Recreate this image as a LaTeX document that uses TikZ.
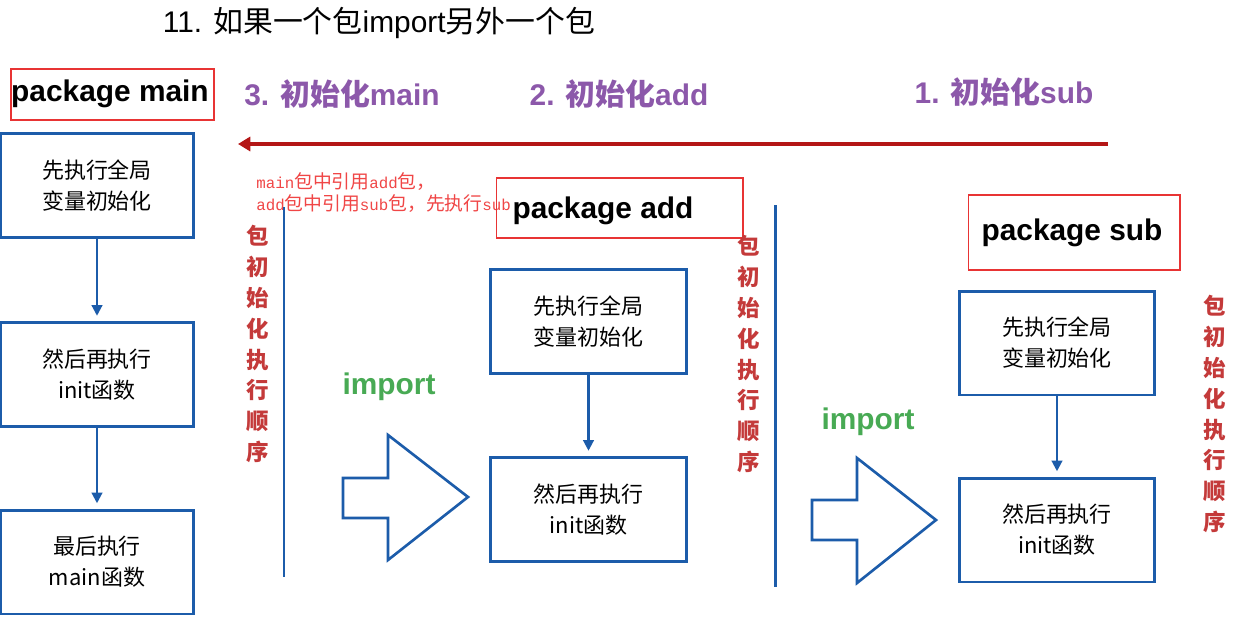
\documentclass[tikz,border=0pt]{standalone}
\usepackage{fontspec}
\setmainfont{Liberation Sans}
\newfontfamily\cjk{Noto Sans CJK SC}
\newfontfamily\annomono[Scale=0.84]{Liberation Mono}
\usepackage{tikz}
\usetikzlibrary{arrows.meta,positioning}
\definecolor{boxBlue}{RGB}{28,92,170}
\definecolor{pkgRed}{RGB}{232,52,52}
\definecolor{stagePurple}{RGB}{140,88,170}
\definecolor{orderRed}{RGB}{196,58,58}
\definecolor{noteRed}{RGB}{240,70,70}
\definecolor{importGreen}{RGB}{72,170,84}
\definecolor{lineRed}{RGB}{180,22,22}
\newcommand{\zh}[1]{{\cjk #1}}

\begin{document}
\begin{tikzpicture}[x=0.02cm,y=-0.02cm,
  stepbox/.style={rectangle,draw=boxBlue,line width=1.7pt,fill=white,
                  minimum width=3.88cm,minimum height=2.08cm,align=center,
                  font=\cjk\fontsize{12.5}{17.6}\selectfont},
  pkgbox/.style={rectangle,draw=pkgRed,line width=0.6pt,inner sep=0pt},
  pkgtext/.style={font=\bfseries\fontsize{17}{20}\selectfont,inner sep=0pt},
  stage/.style={text=stagePurple,font=\bfseries\fontsize{17}{20}\selectfont},
  order/.style={text=orderRed,align=center,inner sep=0pt,
                font=\cjk\bfseries\fontsize{12.8}{17.6}\selectfont},
  importlbl/.style={text=importGreen,font=\bfseries\fontsize{17}{20}\selectfont},
  flow/.style={-{Triangle[length=6pt,width=6pt]},line width=1.2pt,draw=boxBlue,shorten >=3pt},
  divider/.style={draw=boxBlue,line width=1.7pt},
  importarrow/.style={draw=boxBlue,line width=1.5pt,fill=white,line join=miter}
]
  \fill[white] (0,0) rectangle (1258,629);
  \useasboundingbox (0,0) rectangle (1258,629);

  % title
  \node[font=\fontsize{17}{20}\selectfont] (title) at (379,23)
    {11. \zh{如果一个包}import\zh{另外一个包}};

  % stages
  \node[stage] (stmain) at (342,94) {3. \zh{初始化}main};
  \node[stage] (stadd)  at (619,94) {2. \zh{初始化}add};
  \node[stage] (stsub)  at (1004,92){1. \zh{初始化}sub};
  \coordinate (orderR) at (1108,144);
  \coordinate (orderL) at (238,144);
  \draw[lineRed,line width=1.8pt,-{Triangle[length=7pt,width=8pt]}] (orderR) -- (orderL);

  % package main
  \node[pkgbox,minimum width=4.06cm,minimum height=1.02cm] (pmain) at (112.5,94.5) {};
  \node[pkgtext] (pmaint) at (110,94) {package main};
  \node[stepbox] (m1) at (97,185.5) {\zh{先执行全局}\\\zh{变量初始化}};
  \node[stepbox] (m2) at (97,374.5) {\zh{然后再执行}\\init\zh{函数}};
  \node[stepbox] (m3) at (97,562)   {\zh{最后执行}\\main\zh{函数}};
  \draw[flow] (m1) -- (m2);
  \draw[flow] (m2) -- (m3);

  % note
  \node[anchor=west,align=left,text=noteRed,inner sep=0pt,
        font=\cjk\fontsize{10.7}{13}\selectfont] (note) at (256,192.5)
    {{\annomono main}包中引用{\annomono add}包，\\{\annomono add}包中引用{\annomono sub}包，先执行{\annomono sub}};

  \node[order] (ordmain) at (258,344) {包\\初\\始\\化\\执\\行\\顺\\序};
  \coordinate (div1t) at (284,207);
  \coordinate (div1b) at (284,577);
  \draw[divider] (div1t) -- (div1b);

  % import main <- add
  \node[importlbl] (imp1) at (389,387) {import};
  \coordinate (ia1) at (343,478);
  \draw[importarrow] (ia1) -- ++(45,0) -- ++(0,-43) -- ++(80,62) -- ++(-80,63)
    -- ++(0,-42) -- ++(-45,0) -- cycle;

  % package add
  \node[pkgbox,minimum width=4.94cm,minimum height=1.2cm] (padd) at (619.5,208) {};
  \node[pkgtext] (paddt) at (603,211) {package add};
  \node[stepbox,minimum width=3.94cm] (a1) at (588.5,321.5) {\zh{先执行全局}\\\zh{变量初始化}};
  \node[stepbox,minimum width=3.94cm] (a2) at (588.5,509.5) {\zh{然后再执行}\\init\zh{函数}};
  \draw[flow] (a1) -- (a2);

  \node[order] (ordadd) at (749,354) {包\\初\\始\\化\\执\\行\\顺\\序};
  \coordinate (div2t) at (775,205);
  \coordinate (div2b) at (775,587);
  \draw[divider] (div2t) -- (div2b);

  % import add <- sub
  \node[importlbl] (imp2) at (868,422) {import};
  \coordinate (ia2) at (812,500);
  \draw[importarrow] (ia2) -- ++(45,0) -- ++(0,-42) -- ++(79,62) -- ++(-79,63)
    -- ++(0,-43) -- ++(-45,0) -- cycle;

  % package sub
  \node[pkgbox,minimum width=4.24cm,minimum height=1.5cm] (psub) at (1074,232.5) {};
  \node[pkgtext] (psubt) at (1072,233) {package sub};
  \node[stepbox,minimum width=3.92cm] (s1) at (1057,343) {\zh{先执行全局}\\\zh{变量初始化}};
  \node[stepbox,minimum width=3.92cm] (s2) at (1057,530) {\zh{然后再执行}\\init\zh{函数}};
  \draw[flow] (s1) -- (s2);

  \node[order] (ordsub) at (1215,414) {包\\初\\始\\化\\执\\行\\顺\\序};
\end{tikzpicture}
\end{document}
